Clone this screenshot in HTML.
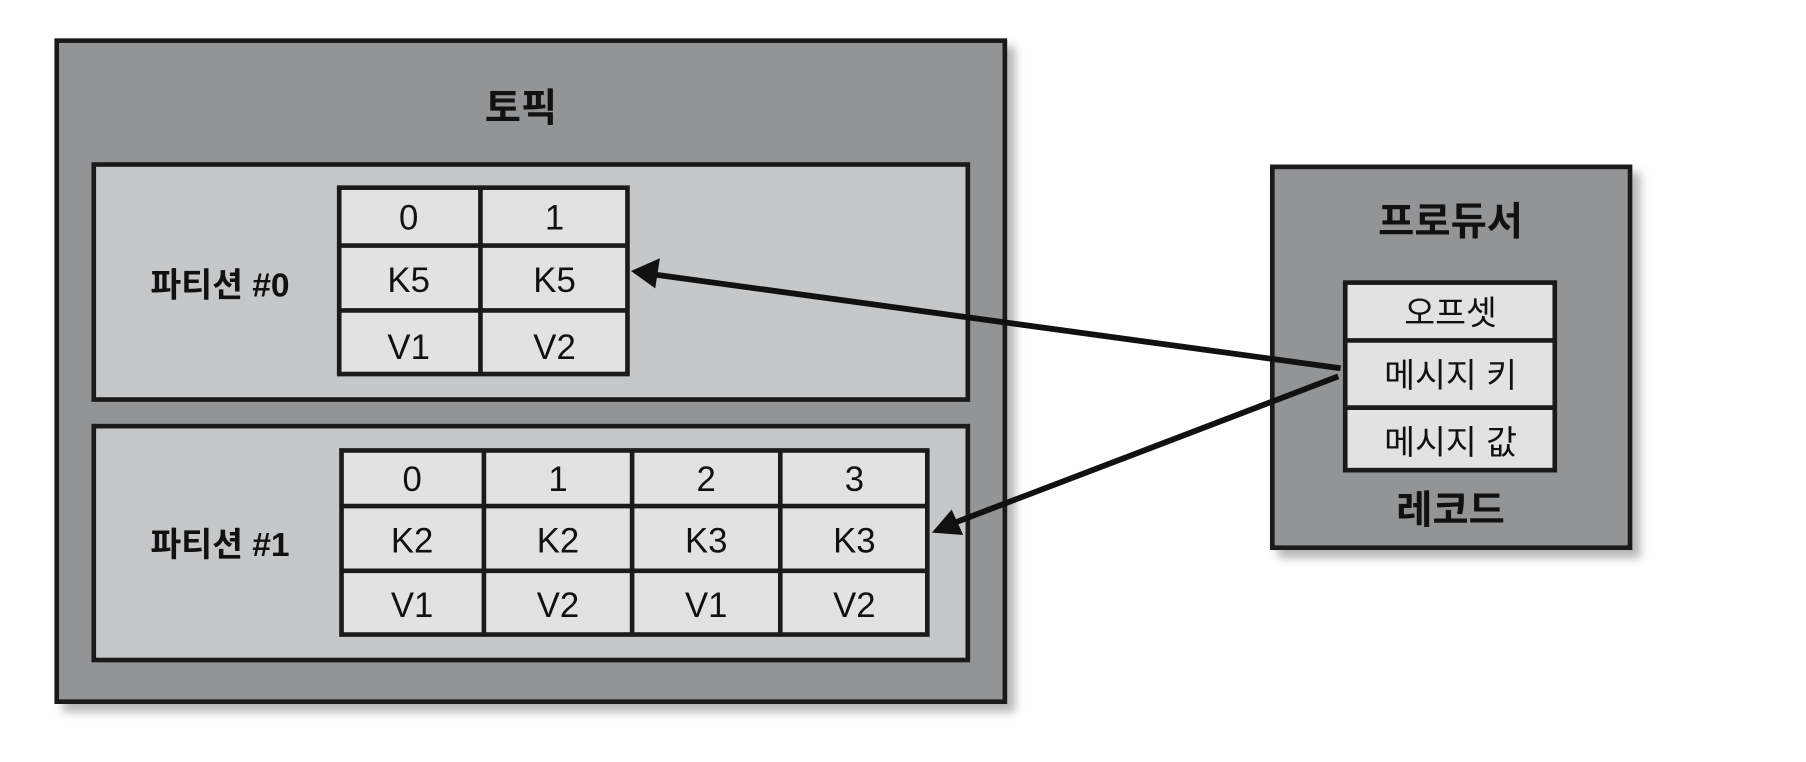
<!DOCTYPE html>
<html><head><meta charset="utf-8"><style>
html,body{margin:0;padding:0;background:#fff;}
svg{display:block;}
text{font-family:"Liberation Sans","Noto Sans CJK KR",sans-serif;fill:#111;}
.b{font-weight:bold;}
</style></head><body>
<svg width="1806" height="762" viewBox="0 0 1560 658" xmlns="http://www.w3.org/2000/svg">
<defs>
<filter id="sh" x="-10%" y="-10%" width="130%" height="130%"><feGaussianBlur stdDeviation="4"/></filter>
</defs>
<rect width="1560" height="658" fill="#fff"/>
<!-- shadows -->
<rect x="54" y="40" width="823" height="575" fill="#888" filter="url(#sh)" opacity="0.6"/>
<rect x="1104" y="149" width="313" height="333" fill="#888" filter="url(#sh)" opacity="0.6"/>
<!-- topic -->
<rect x="49" y="35" width="819" height="571" fill="#939495" stroke="#1a1a1a" stroke-width="4"/>
<text x="450" y="105" font-size="34" text-anchor="middle" class="b">토픽</text>
<!-- partition 0 -->
<rect x="81" y="142" width="755" height="203" fill="#c6c7c9" stroke="#1a1a1a" stroke-width="4"/>
<text x="190" y="256" font-size="29" text-anchor="middle" class="b">파티션 #0</text>
<g stroke="#1a1a1a" stroke-width="4" fill="#e2e2e2">
<rect x="293" y="162" width="249" height="161"/>
<line x1="415" y1="162" x2="415" y2="323"/>
<line x1="293" y1="212" x2="542" y2="212"/>
<line x1="293" y1="268" x2="542" y2="268"/>
</g>
<g font-size="30" text-anchor="middle">
<text x="353" y="198">0</text><text x="479" y="198">1</text>
<text x="353" y="252">K5</text><text x="479" y="252">K5</text>
<text x="353" y="310">V1</text><text x="479" y="310">V2</text>
</g>
<!-- partition 1 -->
<rect x="81" y="368" width="755" height="202" fill="#c6c7c9" stroke="#1a1a1a" stroke-width="4"/>
<text x="190" y="480" font-size="29" text-anchor="middle" class="b">파티션 #1</text>
<g stroke="#1a1a1a" stroke-width="4" fill="#e2e2e2">
<rect x="295" y="389" width="506" height="159"/>
<line x1="418" y1="389" x2="418" y2="548"/>
<line x1="546" y1="389" x2="546" y2="548"/>
<line x1="674" y1="389" x2="674" y2="548"/>
<line x1="295" y1="437" x2="801" y2="437"/>
<line x1="295" y1="493" x2="801" y2="493"/>
</g>
<g font-size="30" text-anchor="middle">
<text x="356" y="424">0</text><text x="482" y="424">1</text><text x="610" y="424">2</text><text x="738" y="424">3</text>
<text x="356" y="477">K2</text><text x="482" y="477">K2</text><text x="610" y="477">K3</text><text x="738" y="477">K3</text>
<text x="356" y="533">V1</text><text x="482" y="533">V2</text><text x="610" y="533">V1</text><text x="738" y="533">V2</text>
</g>
<!-- producer -->
<rect x="1099" y="144" width="309" height="329" fill="#939495" stroke="#1a1a1a" stroke-width="4"/>
<text x="1253" y="203" font-size="34" text-anchor="middle" class="b">프로듀서</text>
<g stroke="#1a1a1a" stroke-width="4" fill="#e2e2e2">
<rect x="1162" y="244" width="181" height="162"/>
<line x1="1162" y1="294" x2="1343" y2="294"/>
<line x1="1162" y1="352" x2="1343" y2="352"/>
</g>
<g font-size="29" text-anchor="middle">
<text x="1253" y="280">오프셋</text>
<text x="1253" y="334">메시지 키</text>
<text x="1253" y="392">메시지 값</text>
</g>
<text x="1253" y="452" font-size="34" text-anchor="middle" class="b">레코드</text>
<!-- arrows -->
<g stroke="#111" stroke-width="5" fill="none">
<line x1="1158" y1="318" x2="565" y2="237"/>
<line x1="1156" y1="325" x2="823" y2="452"/>
</g>
<polygon points="545,234 570,223 566,249" fill="#111"/>
<polygon points="805,460 822,440 832,462" fill="#111"/>
</svg>
</body></html>
